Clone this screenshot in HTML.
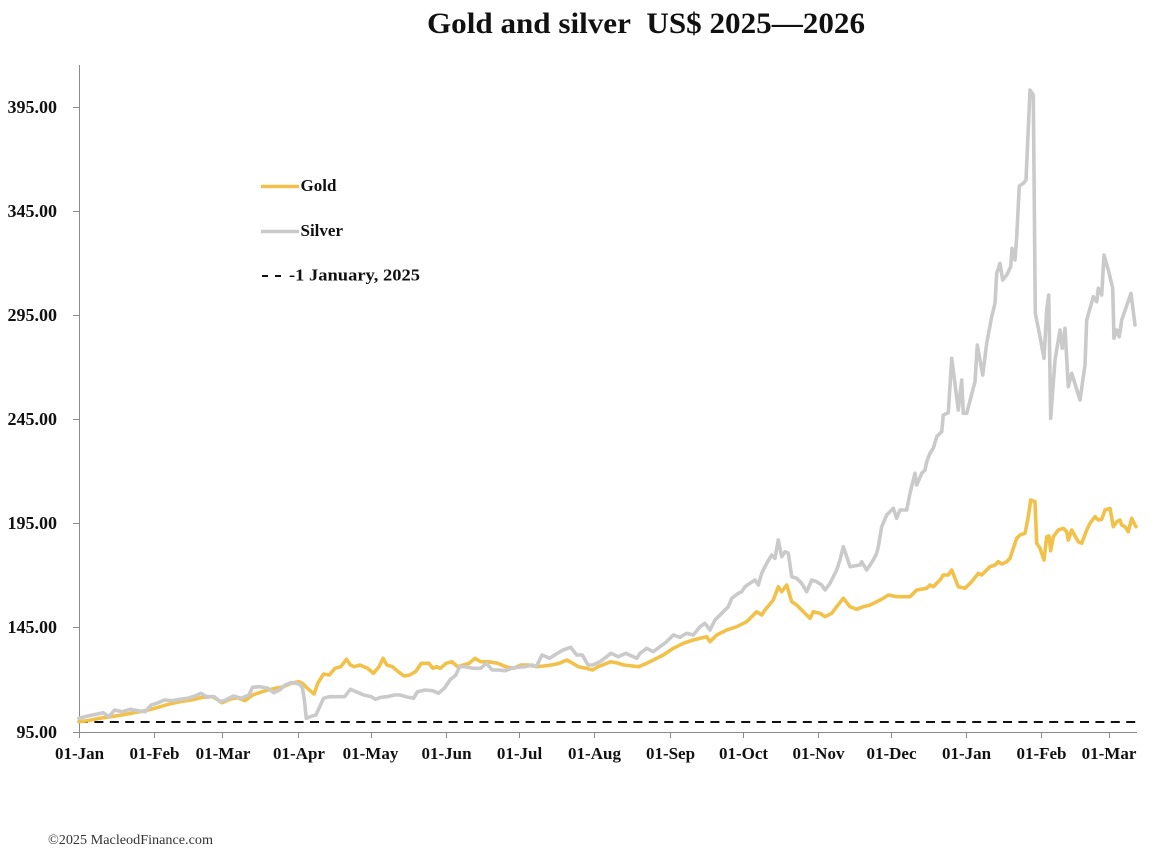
<!DOCTYPE html>
<html>
<head>
<meta charset="utf-8">
<style>
html,body{margin:0;padding:0;background:#fff;}
svg{display:block;}
text{font-family:"Liberation Serif","DejaVu Serif",serif;}
</style>
</head>
<body>
<svg width="1158" height="856" viewBox="0 0 1158 856" xmlns="http://www.w3.org/2000/svg">
<rect width="1158" height="856" fill="#fff"/>
<text x="646" y="33" text-anchor="middle" font-size="30" font-weight="bold" textLength="438" lengthAdjust="spacingAndGlyphs" fill="#111">Gold and silver&#160; US$ 2025—2026</text>

<!-- axes -->
<g stroke="#8a8a8a" stroke-width="1" fill="none">
<line x1="79.5" y1="65" x2="79.5" y2="732.5"/>
<line x1="79" y1="732.5" x2="1137" y2="732.5"/>
<line x1="73" y1="107.5" x2="79" y2="107.5"/>
<line x1="73" y1="211.5" x2="79" y2="211.5"/>
<line x1="73" y1="315.5" x2="79" y2="315.5"/>
<line x1="73" y1="419.5" x2="79" y2="419.5"/>
<line x1="73" y1="523.5" x2="79" y2="523.5"/>
<line x1="73" y1="627.5" x2="79" y2="627.5"/>
<line x1="73" y1="732.5" x2="79" y2="732.5"/>
<line x1="79.5" y1="732" x2="79.5" y2="738"/>
<line x1="154.5" y1="732" x2="154.5" y2="738"/>
<line x1="222.5" y1="732" x2="222.5" y2="738"/>
<line x1="298.5" y1="732" x2="298.5" y2="738"/>
<line x1="371.5" y1="732" x2="371.5" y2="738"/>
<line x1="446.5" y1="732" x2="446.5" y2="738"/>
<line x1="519.5" y1="732" x2="519.5" y2="738"/>
<line x1="594.5" y1="732" x2="594.5" y2="738"/>
<line x1="670.5" y1="732" x2="670.5" y2="738"/>
<line x1="743.5" y1="732" x2="743.5" y2="738"/>
<line x1="818.5" y1="732" x2="818.5" y2="738"/>
<line x1="891.5" y1="732" x2="891.5" y2="738"/>
<line x1="966.5" y1="732" x2="966.5" y2="738"/>
<line x1="1041.5" y1="732" x2="1041.5" y2="738"/>
<line x1="1109.5" y1="732" x2="1109.5" y2="738"/>
</g>

<!-- y labels -->
<g font-size="18" font-weight="bold" fill="#111" text-anchor="end">
<text x="57" y="113">395.00</text>
<text x="57" y="217">345.00</text>
<text x="57" y="321">295.00</text>
<text x="57" y="425">245.00</text>
<text x="57" y="529">195.00</text>
<text x="57" y="633">145.00</text>
<text x="57" y="738">95.00</text>
</g>

<!-- x labels -->
<g font-size="17" font-weight="bold" fill="#111" text-anchor="middle">
<text x="79.5" y="759">01-Jan</text>
<text x="154.5" y="759">01-Feb</text>
<text x="223" y="759">01-Mar</text>
<text x="299" y="759">01-Apr</text>
<text x="370.5" y="759">01-May</text>
<text x="446.5" y="759">01-Jun</text>
<text x="519.5" y="759">01-Jul</text>
<text x="594.5" y="759">01-Aug</text>
<text x="670.5" y="759">01-Sep</text>
<text x="743.5" y="759">01-Oct</text>
<text x="818.5" y="759">01-Nov</text>
<text x="891.5" y="759">01-Dec</text>
<text x="966.5" y="759">01-Jan</text>
<text x="1041.5" y="759">01-Feb</text>
<text x="1109" y="759">01-Mar</text>
</g>

<!-- baseline dashed -->
<line x1="79" y1="722" x2="1137" y2="722" stroke="#111" stroke-width="2" stroke-dasharray="9 6.4"/>

<!-- gold -->
<polyline fill="none" stroke="#F2C14A" stroke-width="3.6" stroke-linejoin="round" stroke-linecap="round" points="79,721.7 87.8,720.7 99.3,718.3 110.8,716.7 122.3,715 133.8,712.7 145.3,710.7 156.8,707.7 168.3,704.3 179.8,701.7 191.3,700 202.8,697.3 212.4,696.7 218.1,700 222,702.7 229.6,699.3 237.3,697.7 245,700.7 252.6,695 260.3,692.3 268,690 275.6,688.3 283.3,686.7 291,683.3 298.6,681.7 302.5,683.3 306.3,687.3 314,694 317.8,683.3 323.5,674 329.3,675 335,668.3 340.8,666.7 346.5,659.3 350.4,665 354.2,666.7 360,665 367.6,668.3 373.4,673.3 379.1,666.7 383,658.3 386.8,665 392.5,666.7 398.3,671.7 404,676 409.8,675 415.5,671.7 421.3,663.3 428.9,663.3 432.8,668.3 436.6,666.7 440.4,668.3 446.2,663.3 451.9,661.7 457.7,666.7 463.4,665 469.2,663.3 474.9,658.3 480.7,661.7 486.4,661.7 492.2,662.3 497.9,663.3 505.6,666.7 513.3,668.3 520.9,665 528.6,665 536.3,666.7 543.9,666 551.6,665 559.3,663.3 566.9,660 572.7,663.3 578.4,666.7 586.1,668.3 592.6,670 598.1,666.7 611,661.7 618.4,663.3 623.9,665 638.7,666.7 646.7,663.3 653.3,660 663.3,655 673.3,648.3 683.3,643.3 693.3,640 706.7,636.7 710,641.7 716.7,635 726.7,630 736.7,626.7 746.7,621.7 756.7,611.7 761.7,615 765,610 773.3,600 778.3,586.7 781.7,591.7 786.7,585 791.7,601.7 796.7,605 803.3,611.7 810,618.3 813.3,611.7 820,613.3 825,616.7 831.7,613.3 836.7,606.7 843.3,598.3 850,606.7 856.7,609.3 863.3,606.7 870,605 876.7,601.7 883.3,598.3 888.3,595 896.7,596.7 900,596.7 910,596.7 916.7,590 926.7,588.3 930,585 933.3,586.7 940,580 943.3,575 948.3,575 951.7,570 958.3,586.7 965,588.3 971.7,581.7 978.3,573.3 981.7,575 990,566.7 995,565 998.3,561.7 1001.7,564 1006.7,561.7 1010,558.3 1013.3,548.3 1016.7,538.3 1020,535 1025,533.3 1028.3,516.7 1030.7,500 1035,501.7 1036.7,543.3 1040,548.3 1044,560 1046.7,536.7 1049,536 1050.7,550.7 1053.3,536.7 1058.3,530 1063.3,528.3 1066.7,531.7 1068.3,540 1071.7,530 1078.3,541.7 1081.7,543.3 1086.7,530 1090,523.3 1095,516.7 1098.3,520 1101.7,519.3 1105,510 1110,508.3 1113.3,526.7 1116.7,521.7 1120,520 1121.7,525 1125,526.7 1128.3,531.7 1131.7,518.3 1133.3,521.7 1136,526.7"/>

<!-- silver -->
<polyline fill="none" stroke="#CACACA" stroke-width="3.6" stroke-linejoin="round" stroke-linecap="round" points="79,718.3 87.8,716 97.4,714 103.1,712.7 108.9,716.7 114.6,710 122.3,711.7 130,709.3 137.6,710.7 145.3,711.7 151.1,705 156.8,703.3 164.5,700 172.1,700.7 179.8,699.3 187.5,698.3 195.1,696 200.9,693.3 206.6,696.7 214.3,696.7 220.1,701.7 225.8,700 233.5,696 241.1,698.3 248.8,695 252.6,687.3 260.3,686.7 268,688.3 273.7,692.7 279.5,690 285.2,685 291,682.7 296.7,683.3 300.5,685 302.5,688.3 304.4,700 306.3,718.3 312,716 315.9,715 319.7,706.7 323.5,698.3 329.3,696.7 337,696.7 344.6,696.7 350.4,689.3 356.1,691.7 363.8,695 371.4,696.7 375.3,699.3 381,697.3 386.8,696.7 394.4,695 400.2,695 405.9,696.7 413.6,698.3 417.4,691.7 425.1,690 432.8,690.7 438.5,693.3 444.3,688.3 450,680 455.8,675 459.6,666.7 465.4,666.7 473,668.3 480.7,668.3 486.4,663.3 492.2,670 497.9,670 505.6,670.7 511.3,668.3 517.1,667.3 524.8,666.7 532.4,665 536.3,666.7 542,655 549.7,658.3 557.4,653.3 563.1,650 570.8,647.3 576.6,655 582.3,655 588,665 592.6,665 600,661.7 611,653.3 618.4,656.7 625.8,653.3 636.8,658.3 640,653.3 646.7,648.3 653.3,651.7 660,646.7 666.7,641.7 673.3,635 680,637.3 686.7,633.3 693.3,635 700,626.7 705,623.3 710,630 715,620 721.7,613.3 728.3,606.7 731.7,598.3 738.3,593.3 741.7,591.7 745,586.7 750,583.3 755,580 758.3,585 761.7,573.3 766.7,563.3 771.7,555 775,558.3 778.3,540 781.7,556.7 785,551.7 788.3,553.3 791.7,576.7 796.7,578.3 801.7,583.3 806.7,591.7 811.7,580 816.7,581.7 821.7,585 825,590 830,583.3 836.7,570 840,560 843.3,546.7 846.7,556.7 850,566.7 860,565 861.7,561.7 866.7,570 873.3,560 876.7,553.3 878.3,546.7 881.7,526.7 886.7,515 893.3,508.3 896.7,518.3 900,510 906.7,510 910,493.3 915,473.3 916.7,485 921.7,473.3 925,470 926.7,461.7 930,453.3 933.3,448.3 936.7,436.7 941.7,431.7 943.3,415 948.3,412.7 951.7,358.3 958.3,410 961.7,380 963.3,413.3 966.7,413.3 975,381.7 977.3,345 982.7,375 986.7,343.3 991.7,316.7 995,303.3 996.7,273.3 1000,263.3 1002.7,280 1006.7,275 1010.7,266.7 1012,248.3 1015,260 1016.7,236.7 1019.3,186 1023.3,183.3 1026,180 1030,90 1033.3,95 1035.3,313.3 1040,336.7 1044,358.3 1046.7,310 1048.7,295 1050.7,418.3 1055,360 1060,330 1062.3,348.3 1065,328.3 1068.3,386.7 1071.7,373.3 1080,400 1085,365 1086.7,320 1093.3,296.7 1096.7,301.7 1098.3,288.3 1101.7,295 1104,255 1108.3,270 1112.7,288.3 1114,338.3 1116.7,330 1119.3,336.7 1121.7,320 1131,293.3 1135,325"/>

<!-- legend -->
<line x1="261" y1="186.5" x2="299" y2="186.5" stroke="#F2C14A" stroke-width="3.6"/>
<text x="300.5" y="191" font-size="17" font-weight="bold" fill="#111">Gold</text>
<line x1="261" y1="231.5" x2="299" y2="231.5" stroke="#CACACA" stroke-width="3.6"/>
<text x="300.5" y="236" font-size="17" font-weight="bold" fill="#111">Silver</text>
<line x1="262" y1="276" x2="288" y2="276" stroke="#111" stroke-width="2" stroke-dasharray="6 7"/>
<text x="289" y="280.5" font-size="17" font-weight="bold" fill="#111" textLength="131" lengthAdjust="spacingAndGlyphs">-1 January, 2025</text>

<!-- footer -->
<text x="48" y="844" font-size="13.5" fill="#333" textLength="165" lengthAdjust="spacingAndGlyphs">©2025 MacleodFinance.com</text>
</svg>
</body>
</html>
